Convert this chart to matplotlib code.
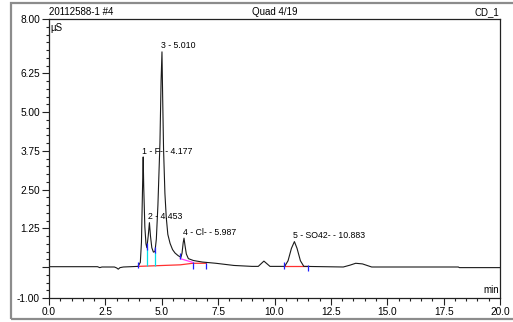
## Chromatogram of sample 20112588-1 #4, redrawn from the instrument print-out

import matplotlib.pyplot as plt
from matplotlib.patches import Rectangle

# detector trace (min, uS)
trace_t = [0.0, 2.15, 2.25, 2.35, 2.9, 3.0, 3.07, 3.15, 3.3, 3.95, 4.05, 4.10, 4.155,
           4.177, 4.20, 4.25, 4.30, 4.34, 4.40, 4.453, 4.50, 4.56, 4.63, 4.70, 4.76,
           4.83, 4.92, 4.97, 5.01, 5.04, 5.08, 5.14, 5.20, 5.27, 5.37, 5.48, 5.59,
           5.72, 5.85, 5.90, 5.95, 5.987, 6.03, 6.09, 6.18, 6.40, 6.80, 7.40, 8.20,
           9.00, 9.28, 9.53, 9.80, 10.45, 10.60, 10.75, 10.883, 11.00, 11.15, 11.30,
           13.05, 13.35, 13.60, 13.90, 14.31, 18.15, 18.20, 20.0]
trace_y = [0.01, 0.01, -0.02, 0.0, 0.0, -0.03, -0.07, -0.02, 0.0, 0.02, 0.15, 0.8, 2.8,
           3.55, 2.6, 1.3, 0.75, 0.62, 1.0, 1.43, 1.0, 0.62, 0.48, 0.5, 0.9,
           2.0, 4.0, 6.0, 6.94, 5.5, 3.8, 2.38, 1.6, 1.05, 0.76, 0.56, 0.45,
           0.37, 0.31, 0.45, 0.78, 0.93, 0.7, 0.42, 0.27, 0.21, 0.16, 0.12, 0.05,
           0.02, 0.02, 0.19, 0.02, 0.02, 0.2, 0.6, 0.82, 0.6, 0.2, 0.02,
           0.0, 0.06, 0.12, 0.1, 0.0, 0.0, -0.02, -0.02]

# peak annotations
peak_t = [4.177, 4.453, 5.010, 5.987, 10.883]
peak_h = [3.55, 1.43, 6.94, 0.93, 0.82]
peak_lbl = ['1 - F- - 4.177', '2 - 4.453', '3 - 5.010', '4 - Cl- - 5.987', '5 - SO42- - 10.883']

# integration marks
mark_t = [3.96, 4.33, 4.70, 5.82, 6.37, 6.98, 10.42, 11.47]
mark_y = [0.06, 0.66, 0.56, 0.36, 0.05, 0.04, 0.05, -0.02]
drop_t = [4.33, 4.70]
drop_top = [0.62, 0.5]
base1_t = [3.96, 5.82, 6.37, 6.98]
base1_y = [0.02, 0.07, 0.12, 0.12]
base2_t = [10.42, 11.47]
base2_y = [0.03, 0.03]
skim_t = [5.82, 6.37]
skim_y = [0.27, 0.15]

plt.rcParams['font.family'] = ['Liberation Sans', 'DejaVu Sans']

fig = plt.figure(figsize=(5.13, 3.22), dpi=100)
ax = fig.add_axes([49 / 513, 1 - 298 / 322, 451 / 513, 279 / 322])

# grey frame round the whole print-out
fig.patches.append(Rectangle((11 / 513, 1 - 319 / 322), 506 / 513, 316 / 322,
                             transform=fig.transFigure, fill=False,
                             edgecolor='#8c8c8c', lw=1.6))

ax.plot(base1_t, base1_y, color='#ff3030', lw=0.9)
ax.plot(base2_t, base2_y, color='#ff3030', lw=0.9)
ax.plot(skim_t, skim_y, color='#ff40ff', lw=0.9)
ax.vlines(drop_t, [0.03, 0.04], drop_top, color='#00e0e8', lw=0.9)
ax.plot(trace_t, trace_y, color='#1a1a1a', lw=0.8)
ax.vlines(mark_t, [y - 0.1 for y in mark_y], [y + 0.1 for y in mark_y],
          color='#2020ff', lw=0.9)

for t, h, s in zip(peak_t, peak_h, peak_lbl):
    ax.annotate(s, (t, h), xytext=(-1, 1), textcoords='offset points',
                ha='left', va='bottom', fontsize=6.3)

ax.set_xlim(0, 20)
ax.set_ylim(-1, 8)
ax.set_xticks([0, 2.5, 5, 7.5, 10, 12.5, 15, 17.5, 20])
ax.set_xticklabels(['0.0', '2.5', '5.0', '7.5', '10.0', '12.5', '15.0', '17.5', '20.0'])
ax.set_xticks([i * 0.5 for i in range(41)], minor=True)
ax.set_yticks([-1, 0, 1.25, 2.5, 3.75, 5, 6.25, 8])
ax.set_yticklabels(['-1.00', '', '1.25', '2.50', '3.75', '5.00', '6.25', '8.00'])
ax.set_yticks([-1 + i * 0.25 for i in range(37)], minor=True)
ax.tick_params(which='major', length=5, width=0.8, labelsize=7.3, pad=1.5, color='#222222')
ax.tick_params(which='minor', length=2.5, width=0.8, color='#222222')
for sp in ax.spines.values():
    sp.set_linewidth(0.9)
    sp.set_color('#222222')

ax.text(0.004, 0.985, 'µS', transform=ax.transAxes, ha='left', va='top', fontsize=7)
ax.text(0.997, 0.012, 'min', transform=ax.transAxes, ha='right', va='bottom', fontsize=7)
ax.text(0.0, 1.006, '20112588-1 #4', transform=ax.transAxes, ha='left', va='bottom', fontsize=7)
ax.text(0.5, 1.006, 'Quad 4/19', transform=ax.transAxes, ha='center', va='bottom', fontsize=7)
ax.text(0.998, 1.006, 'CD_1', transform=ax.transAxes, ha='right', va='bottom', fontsize=7)

fig.savefig('out.png', dpi=100)
